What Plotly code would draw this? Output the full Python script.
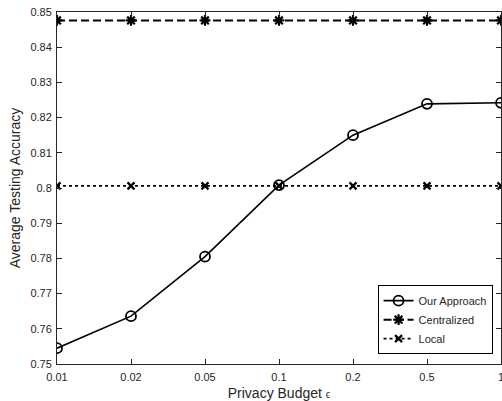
import plotly.graph_objects as go

budgets = ["0.01", "0.02", "0.05", "0.1", "0.2", "0.5", "1"]
our_approach = [0.7545, 0.7636, 0.7805, 0.8008, 0.8150, 0.8239, 0.8242]
centralized = [0.8476] * 7
local = [0.8006] * 7

fig = go.Figure()
fig.add_trace(go.Scatter(
    x=budgets, y=our_approach, name="Our Approach", mode="lines+markers",
    line=dict(color="black", width=1.6),
    marker=dict(symbol="circle-open", size=10, color="black", line=dict(width=1.8)),
))
fig.add_trace(go.Scatter(
    x=budgets, y=centralized, name="Centralized", mode="lines+markers",
    line=dict(color="black", width=2, dash="8px,4px"),
    marker=dict(symbol="asterisk-open", size=9, color="black", line=dict(width=2.2)),
))
fig.add_trace(go.Scatter(
    x=budgets, y=local, name="Local", mode="lines+markers",
    line=dict(color="black", width=1.8, dash="dot"),
    marker=dict(symbol="x-thin-open", size=7, color="black", line=dict(width=2.2)),
))

axis_common = dict(
    showgrid=False, zeroline=False, showline=True, mirror="ticks",
    linecolor="#262626", linewidth=1, ticks="inside", ticklen=5,
    tickcolor="#262626", tickfont=dict(size=11, color="#262626"),
    automargin=False,
)
fig.update_xaxes(
    type="category", range=[0, 6], ticklabelstandoff=3,
    title=dict(text="Privacy Budget <span style='font-size:10px'>ϵ</span>",
               font=dict(size=14, color="#262626"), standoff=6),
    **axis_common,
)
fig.update_yaxes(
    range=[0.75, 0.85], ticklabelstandoff=2,
    tickvals=[0.75, 0.76, 0.77, 0.78, 0.79, 0.80, 0.81, 0.82, 0.83, 0.84, 0.85],
    ticktext=["0.75", "0.76", "0.77", "0.78", "0.79", "0.8", "0.81", "0.82", "0.83", "0.84", "0.85"],
    title=dict(text="Average Testing Accuracy", font=dict(size=14, color="#262626"), standoff=6),
    **axis_common,
)
fig.update_layout(
    width=502, height=401,
    margin=dict(l=57, r=1, t=12, b=37),
    paper_bgcolor="white", plot_bgcolor="white",
    font=dict(family="Liberation Sans, Arial, sans-serif", color="#262626"),
    showlegend=True,
    legend=dict(
        x=0.981, y=0.028, xanchor="right", yanchor="bottom",
        bgcolor="white", bordercolor="black", borderwidth=1,
        font=dict(size=11, color="#262626"), itemwidth=30,
        tracegroupgap=0,
    ),
)
fig.write_html("out.html", config={"displayModeBar": False},
               post_script="document.body.style.margin='0';")
